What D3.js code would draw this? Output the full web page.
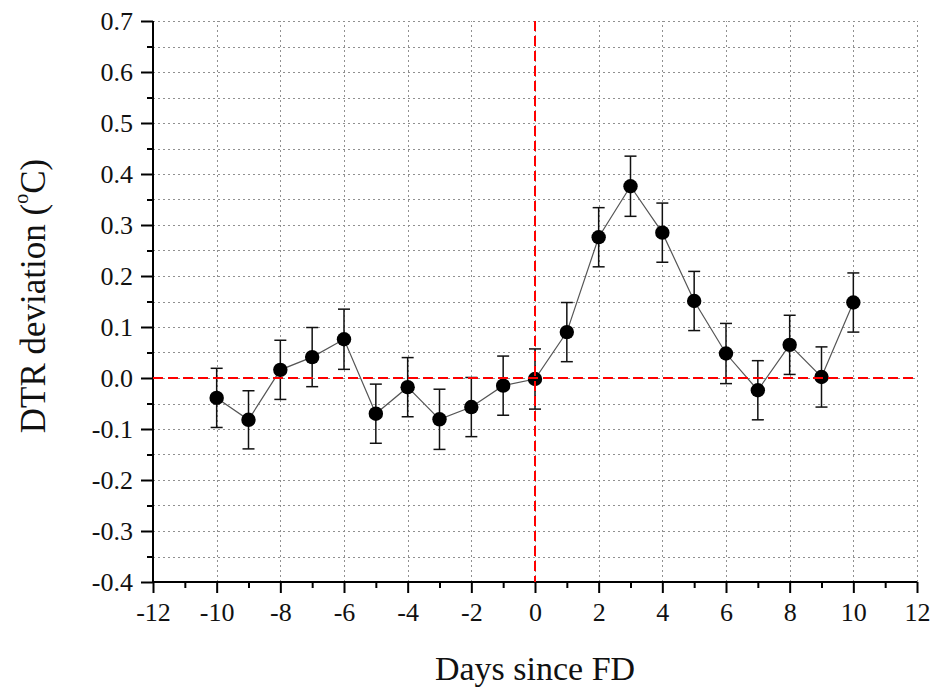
<!DOCTYPE html>
<html>
<head>
<meta charset="utf-8">
<script src="https://cdn.jsdelivr.net/npm/d3@7"></script>
<style>
  html, body { margin: 0; padding: 0; background: #fff; }
  svg { display: block; }
</style>
</head>
<body>
<svg id="chart" width="938" height="687" font-family="Liberation Serif"></svg>
<script>
// Daily DTR deviation relative to the FD day, with error bars
const days = [-10, -9, -8, -7, -6, -5, -4, -3, -2, -1, 0, 1, 2, 3, 4, 5, 6, 7, 8, 9, 10];
const deviation = [-0.039, -0.082, 0.016, 0.041, 0.076, -0.070, -0.018, -0.081, -0.057, -0.015, -0.002,
                   0.090, 0.276, 0.376, 0.285, 0.151, 0.048, -0.024, 0.065, 0.002, 0.148];
const errors = [0.058, 0.057, 0.058, 0.058, 0.059, 0.058, 0.058, 0.059, 0.058, 0.058, 0.059,
                0.058, 0.058, 0.059, 0.058, 0.058, 0.059, 0.058, 0.058, 0.059, 0.058];
const xTicks = [-12, -10, -8, -6, -4, -2, 0, 2, 4, 6, 8, 10, 12];
const yTicks = [-0.4, -0.3, -0.2, -0.1, 0.0, 0.1, 0.2, 0.3, 0.4, 0.5, 0.6, 0.7];

const data = days.map((d, i) => ({ day: d, value: deviation[i], err: errors[i] }));

const svg = d3.select("#chart");
const margin = { left: 153, right: 21, top: 21, bottom: 105 };
const W = 938, H = 687;
const FONT = "Liberation Serif";

const x = d3.scaleLinear().domain([-12, 12]).range([margin.left, W - margin.right]);
const y = d3.scaleLinear().domain([-0.4, 0.7]).range([H - margin.bottom, margin.top]);

const [x0, x1] = x.range();
const [yb, yt] = y.range();

// grid: vertical at major x ticks, horizontal at every 0.05
const grid = svg.append("g").attr("stroke", "#909090").attr("stroke-width", 1)
  .attr("stroke-dasharray", "2,3");
grid.selectAll("line.v").data(xTicks.filter(t => t > -12))
  .join("line").attr("class", "v")
  .attr("x1", d => Math.round(x(d)) + 0.5).attr("x2", d => Math.round(x(d)) + 0.5)
  .attr("y1", yb).attr("y2", yt);
const hGrid = d3.range(-0.35, 0.7001, 0.05);
grid.selectAll("line.h").data(hGrid)
  .join("line").attr("class", "h")
  .attr("x1", x0).attr("x2", x1)
  .attr("y1", d => Math.round(y(d)) + 0.5).attr("y2", d => Math.round(y(d)) + 0.5);

// axes (plain hyphen for negative numbers)
const hyphen = f => d => f(d).replace("\u2212", "-");
const xAxis = d3.axisBottom(x).tickValues(xTicks).tickSize(11).tickPadding(10)
  .tickFormat(hyphen(d3.format("d")));
const xMinor = d3.axisBottom(x).tickValues(d3.range(-11, 12, 2)).tickSize(6).tickFormat("");
const yAxis = d3.axisLeft(y).tickValues(yTicks).tickSize(12).tickPadding(8)
  .tickFormat(hyphen(d3.format(".1f")));
const yMinor = d3.axisLeft(y).tickValues(d3.range(-0.35, 0.7, 0.1)).tickSize(6).tickFormat("");

function styleAxis(g) {
  g.attr("font-family", FONT).attr("font-size", 26);
  g.selectAll("path").attr("stroke", "#000").attr("stroke-width", 2);
  g.selectAll("line").attr("stroke", "#000").attr("stroke-width", 2);
  g.selectAll("text").attr("font-family", FONT).attr("font-size", 26).attr("fill", "#111");
}

const gx = svg.append("g").attr("transform", `translate(0,${yb})`).call(xAxis).call(styleAxis);
gx.select(".domain").attr("d", `M${x0},0H${x1}`);
svg.append("g").attr("transform", `translate(0,${yb})`).call(xMinor).call(styleAxis)
  .select(".domain").remove();
gx.selectAll("text").attr("dy", "0.7em");

const gy = svg.append("g").attr("transform", `translate(${x0},0)`).call(yAxis).call(styleAxis);
gy.select(".domain").attr("d", `M0,${yt}V${yb}`);
svg.append("g").attr("transform", `translate(${x0},0)`).call(yMinor).call(styleAxis)
  .select(".domain").remove();

// connecting line
svg.append("path").datum(data)
  .attr("fill", "none").attr("stroke", "#555").attr("stroke-width", 1.2)
  .attr("d", d3.line().x(d => x(d.day)).y(d => y(d.value)));

// error bars
const eb = svg.append("g").attr("stroke", "#111").attr("stroke-width", 1.5);
eb.selectAll("line.bar").data(data).join("line").attr("class", "bar")
  .attr("x1", d => x(d.day)).attr("x2", d => x(d.day))
  .attr("y1", d => y(d.value + d.err)).attr("y2", d => y(d.value - d.err));
eb.selectAll("line.capT").data(data).join("line").attr("class", "capT")
  .attr("x1", d => x(d.day) - 6).attr("x2", d => x(d.day) + 6)
  .attr("y1", d => y(d.value + d.err)).attr("y2", d => y(d.value + d.err));
eb.selectAll("line.capB").data(data).join("line").attr("class", "capB")
  .attr("x1", d => x(d.day) - 6).attr("x2", d => x(d.day) + 6)
  .attr("y1", d => y(d.value - d.err)).attr("y2", d => y(d.value - d.err));

// markers
svg.append("g").selectAll("circle").data(data).join("circle")
  .attr("cx", d => x(d.day)).attr("cy", d => y(d.value)).attr("r", 7.2)
  .attr("fill", "#000");

// reference lines at day 0 and zero deviation
const ref = svg.append("g").attr("stroke", "#ff0000").attr("stroke-width", 2)
  .attr("stroke-dasharray", "10,5");
ref.append("line").attr("x1", x0).attr("x2", x1)
  .attr("y1", Math.round(y(0))).attr("y2", Math.round(y(0)));
ref.append("line").attr("x1", Math.round(x(0))).attr("x2", Math.round(x(0)))
  .attr("y1", yt).attr("y2", yb);

// axis titles
svg.append("text").attr("x", (x0 + x1) / 2).attr("y", 680)
  .attr("text-anchor", "middle").attr("font-family", FONT).attr("font-size", 34)
  .attr("fill", "#111").text("Days since FD");

const yTitle = svg.append("text")
  .attr("transform", `translate(45,296) rotate(-90)`)
  .attr("text-anchor", "middle").attr("font-family", FONT).attr("font-size", 35)
  .attr("fill", "#111");
yTitle.append("tspan").text("DTR deviation (");
yTitle.append("tspan").attr("font-size", 20).attr("dy", -17).text("o");
yTitle.append("tspan").attr("dy", 17).text("C)");
</script>
</body>
</html>
